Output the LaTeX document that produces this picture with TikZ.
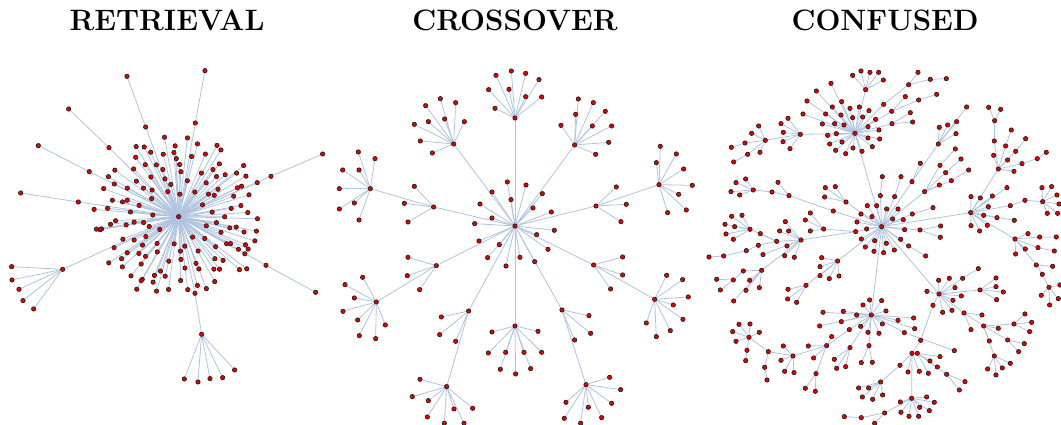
\documentclass[tikz,border=0pt]{standalone}
\definecolor{linkblue}{RGB}{176,196,224}
\definecolor{dotred}{RGB}{232,0,0}
\tikzset{
  spot/.style={circle, inner sep=0pt, minimum size=4.4pt, line width=0.6pt},
  dot/.style={spot, draw=black!90, fill=dotred},
  edge line/.style={draw=linkblue, line width=0.8pt},
  title/.style={font=\fontsize{29.5}{31}\selectfont\bfseries},
}
% leaves hanging from one parent
\newcommand\twigs[2]{%
  \foreach \pt [count=\k] in {#2} {%
    \node[vert] (#1-\k) at \pt {};
    \draw[link] (#1) -- (#1-\k);
  }}
% one named node joined to its parent
\newcommand\branch[3]{%
  \node[vert] (#1) at #3 {};
  \draw[link] (#2) -- (#1);}
% the three graphs, drawn twice: lines first, dots on top
\newcommand\allgraphs{%
% retrieval
\begin{scope}[scale=0.3333]
\node[vert] (r-0) at (536,650) {};
\pgfmathsetseed{17}
\foreach \i in {1,...,140} {
  \pgfmathsetmacro\ang{360*mod(\i*0.381966,1)+8*rand}
  \pgfmathsetmacro\rad{sqrt(0.07+0.93*\i/140)*(1+0.035*rand)}
  \node[vert] (r-\i) at ({536+258*\rad*cos(\ang)},{650+242*\rad*sin(\ang)}) {};
  \draw[link] (r-0) -- (r-\i);
}
\branch{r-a}{r-0}{(437,381)} \twigs{r-a}{(381,229)}
\branch{r-b}{r-0}{(586,369)} \twigs{r-b}{(615,212)}
\branch{r-c}{r-0}{(327,443)} \twigs{r-c}{(206,327)}
\branch{r-d}{r-0}{(268,515)} \twigs{r-d}{(115,437)}
\branch{r-e}{r-0}{(235,606)} \twigs{r-e}{(62,579)}
\branch{r-f}{r-0}{(813,529)} \twigs{r-f}{(968,462)}
\branch{r-g}{r-0}{(798,796)} \twigs{r-g}{(947,877)}
\branch{r-h}{r-0}{(585,880)}
\branch{r-i}{r-h}{(605,1003)}
\twigs{r-i}{(553,1137),(594,1146),(630,1136),(668,1133),(704,1110)}
\branch{r-j}{r-0}{(188,808)}
\twigs{r-j}{(35,800),(36,840),(57,868),(69,902),(101,927)}
\end{scope}
% crossover
\begin{scope}[shift={(330,50)},scale=0.3333]
\node[vert] (x-0) at (555,528) {};
\twigs{x-0}{(532,396),(588,405),(543,449),(637,431),(486,426),(450,462),(609,474),(664,486),(486,504),(434,521),(673,541),(620,554),(447,573),(508,584),(654,598),(473,623),(570,622),(614,635),(528,648)}
\branch{x-t}{x-0}{(555,204)}
\twigs{x-t}{(498,76),(544,63),(587,70),(627,89),(476,119),(537,118),(587,140),(635,141),(495,175)}
\branch{x-ul}{x-0}{(371,282)}
\twigs{x-ul}{(287,167),(331,146),(377,158),(253,223),(295,215),(344,207),(403,215),(271,273),(307,309)}
\branch{x-ur}{x-0}{(734,285)}
\twigs{x-ur}{(745,147),(790,158),(826,184),(693,226),(737,193),(787,228),(845,228),(836,277),(797,313)}
\branch{x-lm}{x-0}{(311,471)}
\twigs{x-lm}{(253,409),(223,460),(234,516)}
\branch{x-l}{x-lm}{(121,416)}
\twigs{x-l}{(85,306),(135,326),(38,360),(87,360),(28,416),(73,459),(28,477),(87,510)}
\branch{x-rm}{x-0}{(798,468)}
\twigs{x-rm}{(859,411),(889,463),(873,515)}
\branch{x-r}{x-rm}{(987,404)}
\twigs{x-r}{(991,289),(979,338),(1039,312),(1061,357),(1087,406),(1046,433),(1013,488),(1069,480)}
\branch{x-llm}{x-0}{(319,647)}
\twigs{x-llm}{(234,622),(232,677),(269,719)}
\branch{x-ll}{x-llm}{(139,756)}
\twigs{x-ll}{(98,682),(45,704),(73,744),(39,784),(83,810),(88,857),(137,866),(166,825)}
\branch{x-lrm}{x-0}{(791,645)}
\twigs{x-lrm}{(878,621),(878,675),(842,717)}
\branch{x-lr}{x-lrm}{(974,748)}
\twigs{x-lr}{(1010,676),(1058,689),(1075,741),(1030,765),(1059,808),(1021,842),(979,860),(949,819)}
\branch{x-b}{x-0}{(555,828)}
\twigs{x-b}{(486,846),(624,844),(475,909),(527,907),(582,907),(635,907),(511,958),(557,972),(602,956)}
\branch{x-blm}{x-0}{(416,783)}
\twigs{x-blm}{(334,801),(329,854),(377,874)}
\branch{x-bl}{x-blm}{(350,1010)}
\twigs{x-bl}{(270,988),(247,1040),(295,1052),(372,1077),(428,1075),(292,1101),(343,1120),(402,1120)}
\branch{x-brm}{x-0}{(696,780)}
\twigs{x-brm}{(777,797),(782,850),(734,870)}
\branch{x-br}{x-brm}{(768,1004)}
\twigs{x-br}{(839,982),(872,1019),(845,1060),(708,1057),(775,1072),(815,1103),(703,1105),(752,1120)}
\end{scope}
% confused
\begin{scope}[shift={(700,50)},scale=0.3333]
\node[vert] (c-0) at (545,530) {};
\twigs{c-0}{(502,467),(530,467),(560,477),(594,477),(483,492),(516,500),(471,516),(500,537),(578,507),(610,509),(614,539),(484,567),(524,572),(496,591),(522,604),(551,608),(559,580),(583,600),(602,568)}
\branch{c-a}{c-0}{(541,437)} \twigs{c-a}{(547,380)}
\branch{c-b}{c-0}{(584,440)} \twigs{c-b}{(603,380)}
\branch{c-c}{c-0}{(636,395)} \twigs{c-c}{(661,340)}
\branch{c-d}{c-c}{(715,282)} \twigs{c-d}{(718,232),(743,225),(770,215),(768,251),(800,171)}
\branch{c-e}{c-0}{(674,425)} \twigs{c-e}{(718,405)}
\branch{c-e1}{c-e}{(720,346)} \twigs{c-e1}{(766,297)}
\branch{c-e2}{c-e}{(737,368)} \twigs{c-e2}{(783,327)}
\branch{c-e3}{c-e}{(754,392)} \twigs{c-e3}{(806,360)}
\branch{c-f}{c-0}{(637,492)} \twigs{c-f}{(699,473)}
\branch{c-g}{c-0}{(660,540)} \twigs{c-g}{(722,528),(721,562)}
\branch{c-h}{c-0}{(626,588)} \twigs{c-h}{(677,618)}
\branch{c-i}{c-0}{(438,456)} \twigs{c-i}{(376,413),(406,410),(374,441)}
\branch{c-j}{c-0}{(400,483)}
\branch{c-k}{c-j}{(267,437)} \twigs{c-k}{(234,397)}
\branch{c-l}{c-k}{(216,426)}
\branch{c-m}{c-l}{(160,420)} \twigs{c-m}{(108,398),(137,387),(93,425),(119,435)}
\branch{c-n}{c-0}{(467,545)}
\branch{c-o}{c-n}{(371,537)} \twigs{c-o}{(331,489),(316,510),(331,543)}
\branch{c-p}{c-n}{(303,570)}
\twigs{c-p}{(256,515),(239,543),(266,543),(261,588),(254,617),(283,622),(189,614)}
\branch{c-q}{c-p}{(230,574)} \twigs{c-q}{(181,551)}
\branch{c-r}{c-q}{(150,538)} \twigs{c-r}{(95,499),(126,496),(75,523),(104,530),(78,552),(100,568)}
\branch{c-s}{c-q}{(175,586)}
\branch{c-s1}{c-s}{(139,602)}
\branch{c-s2}{c-s1}{(71,618)} \twigs{c-s2}{(27,621)}
\branch{c-t}{c-p}{(185,661)} \twigs{c-t}{(149,691),(138,721),(178,713),(101,753)}
\branch{c-u}{c-t}{(130,663)}
\branch{c-v}{c-u}{(100,690)} \twigs{c-v}{(50,688),(61,720)}
\branch{c-w}{c-0}{(413,633)} \twigs{c-w}{(365,623),(360,650),(360,677),(388,686),(417,678)}
\branch{c-x}{c-w}{(318,706)} \twigs{c-x}{(264,718),(263,747),(290,757)}
% top cluster
\branch{c-T}{c-0}{(465,250)}
\twigs{c-T}{(393,100),(349,123),(321,153),(309,192),(377,192),(397,171),(425,155),(450,175),(478,171),(507,182),(527,208),(537,240),(539,267),(517,290),(504,264),(504,230),(486,304),(459,294),(437,311),(407,301),(389,282),(383,256),(409,251),(367,222),(404,221),(426,276),(432,225),(423,195),(458,203),(488,201)}
\branch{c-T1}{c-T}{(497,119)} \twigs{c-T1}{(458,76),(483,63),(510,67),(536,67),(550,90)}
\branch{c-T2}{c-T}{(551,163)}
\branch{c-T3}{c-T2}{(626,104)} \twigs{c-T3}{(654,67)}
\branch{c-T4}{c-T3}{(691,88)} \twigs{c-T4}{(739,86)}
\branch{c-T5}{c-T}{(575,184)} \twigs{c-T5}{(616,140)}
\branch{c-T6}{c-T5}{(656,150)} \twigs{c-T6}{(710,133)}
\branch{c-T7}{c-T}{(576,221)} \twigs{c-T7}{(631,188),(638,216)}
\branch{c-T8}{c-T}{(301,253)} \twigs{c-T8}{(243,221),(264,205),(250,247),(249,275),(270,296)}
\branch{c-T9}{c-T8}{(196,271)} \twigs{c-T9}{(155,250),(176,228),(180,307)}
\branch{c-T10}{c-T9}{(135,279)} \twigs{c-T10}{(94,292)}
\branch{c-T11}{c-T9}{(143,313)} \twigs{c-T11}{(101,336)}
% right cluster
\branch{c-R}{c-0}{(812,488)}
\twigs{c-R}{(813,440),(841,444),(877,438),(921,413),(865,470),(851,496),(891,503),(943,511),(862,526),(839,543),(813,527)}
\branch{c-R1}{c-R}{(895,357)} \twigs{c-R1}{(881,316),(923,330),(942,364)}
\branch{c-R2}{c-R1}{(883,273)}
\branch{c-R3}{c-R2}{(884,212)} \twigs{c-R3}{(866,172),(902,178)}
\branch{c-R4}{c-R1}{(917,288)} \twigs{c-R4}{(934,240)}
\branch{c-R5}{c-R1}{(947,304)} \twigs{c-R5}{(977,266)}
\branch{c-R6}{c-R1}{(966,341)}
\branch{c-R7}{c-R6}{(1012,326)} \twigs{c-R7}{(1039,307)}
\branch{c-R8}{c-R}{(931,467)}
\branch{c-R9}{c-R8}{(975,451)}
\branch{c-R10}{c-R9}{(1028,455)} \twigs{c-R10}{(1026,413),(1055,410),(1071,435),(1077,462),(1042,490),(1073,490)}
\branch{c-R11}{c-R}{(945,567)} \twigs{c-R11}{(976,597),(947,612),(984,551)}
\branch{c-R12}{c-R11}{(1019,561)} \twigs{c-R12}{(1069,561)}
\branch{c-R13}{c-R11}{(1014,593)} \twigs{c-R13}{(1063,603)}
\branch{c-R14}{c-R11}{(1009,645)} \twigs{c-R14}{(1058,649)}
\branch{c-R15}{c-R14}{(1027,673)}
\branch{c-R16}{c-R15}{(1047,712)} \twigs{c-R16}{(1024,736),(1049,765),(1075,746),(1080,705)}
% lower right cluster
\branch{c-Q}{c-0}{(717,732)}
\twigs{c-Q}{(716,691),(748,685),(765,713),(681,724),(728,787),(756,781),(759,751),(784,738)}
\branch{c-Q1}{c-Q}{(788,685)} \twigs{c-Q1}{(835,656)}
\branch{c-Q2}{c-Q}{(840,720)} \twigs{c-Q2}{(888,684),(888,710),(910,726),(890,749)}
\branch{c-Q3}{c-Q}{(792,789)} \twigs{c-Q3}{(846,795),(813,839)}
\branch{c-Q4}{c-Q3}{(851,828)} \twigs{c-Q4}{(895,835),(868,873)}
\branch{c-Q5}{c-Q4}{(942,822)} \twigs{c-Q5}{(975,792),(995,817),(989,845)}
\branch{c-Q6}{c-Q4}{(923,870)} \twigs{c-Q6}{(973,881),(956,905)}
\branch{c-Q7}{c-Q4}{(883,918)} \twigs{c-Q7}{(863,957),(888,975),(907,954),(931,940)}
\branch{c-Q8}{c-Q}{(699,766)}
\branch{c-Q9}{c-Q8}{(662,871)}
\branch{c-Q10}{c-Q9}{(636,910)} \twigs{c-Q10}{(624,966),(658,964)}
\branch{c-Q11}{c-Q10}{(652,910)} \twigs{c-Q11}{(685,970),(690,933),(712,951),(720,920)}
\branch{c-Q12}{c-Q11}{(740,973)} \twigs{c-Q12}{(778,1020),(795,995)}
\branch{c-Q13}{c-Q10}{(635,1045)} \twigs{c-Q13}{(601,1056),(603,1087),(627,1099),(656,1099),(659,1072),(680,1041),(688,1082),(703,1057)}
\branch{c-Q14}{c-Q13}{(554,1089)} \twigs{c-Q14}{(524,1120)}
\branch{c-Q15}{c-Q14}{(484,1103)} \twigs{c-Q15}{(433,1100)}
\branch{c-Q16}{c-Q10}{(600,946)}
\branch{c-Q17}{c-Q16}{(542,996)} \twigs{c-Q17}{(476,1014),(506,1014),(487,1041),(518,1048),(548,1035)}
% bottom cluster
\branch{c-B}{c-0}{(514,795)}
\twigs{c-B}{(509,750),(545,752),(558,783),(470,795),(489,765),(430,784),(369,787),(359,828),(424,815),(482,829),(504,847),(537,850),(547,822),(594,811),(641,804),(644,836)}
\branch{c-B1}{c-B}{(613,848)} \twigs{c-B1}{(763,902)}
\branch{c-B2}{c-B}{(507,887)} \twigs{c-B2}{(484,938),(517,937)}
\branch{c-B3}{c-B}{(450,893)} \twigs{c-B3}{(403,928),(410,955),(437,950)}
\branch{c-B4}{c-B}{(448,839)}
\branch{c-B5}{c-B4}{(380,887)} \twigs{c-B5}{(325,888),(395,860),(341,924)}
\branch{c-B6}{c-B5}{(348,971)} \twigs{c-B6}{(316,1015),(346,1024)}
\branch{c-B7}{c-B5}{(279,918)} \twigs{c-B7}{(250,888),(243,931),(254,964),(282,968)}
\branch{c-B8}{c-B7}{(205,905)}
\branch{c-B9}{c-B8}{(194,952)} \twigs{c-B9}{(201,990)}
\branch{c-B10}{c-B8}{(147,862)} \twigs{c-B10}{(117,823),(150,822),(98,845),(178,847),(108,874)}
\branch{c-B11}{c-B10}{(141,901)} \twigs{c-B11}{(137,932)}
\end{scope}
}
\begin{document}
\begin{tikzpicture}[x=1pt,y=-1pt]
\fill[white] (0,0) rectangle (1061,425);
\useasboundingbox (0,0) rectangle (1061,425);

\node[title] (t-ret) at (167,20) {RETRIEVAL};
\node[title] (t-cro) at (515,20) {CROSSOVER};
\node[title] (t-con) at (885,20) {CONFUSED};

\tikzset{vert/.style={spot}, link/.style={edge line}}
\allgraphs
\tikzset{vert/.style={dot}, link/.style={draw=none}}
\allgraphs
\end{tikzpicture}
\end{document}
